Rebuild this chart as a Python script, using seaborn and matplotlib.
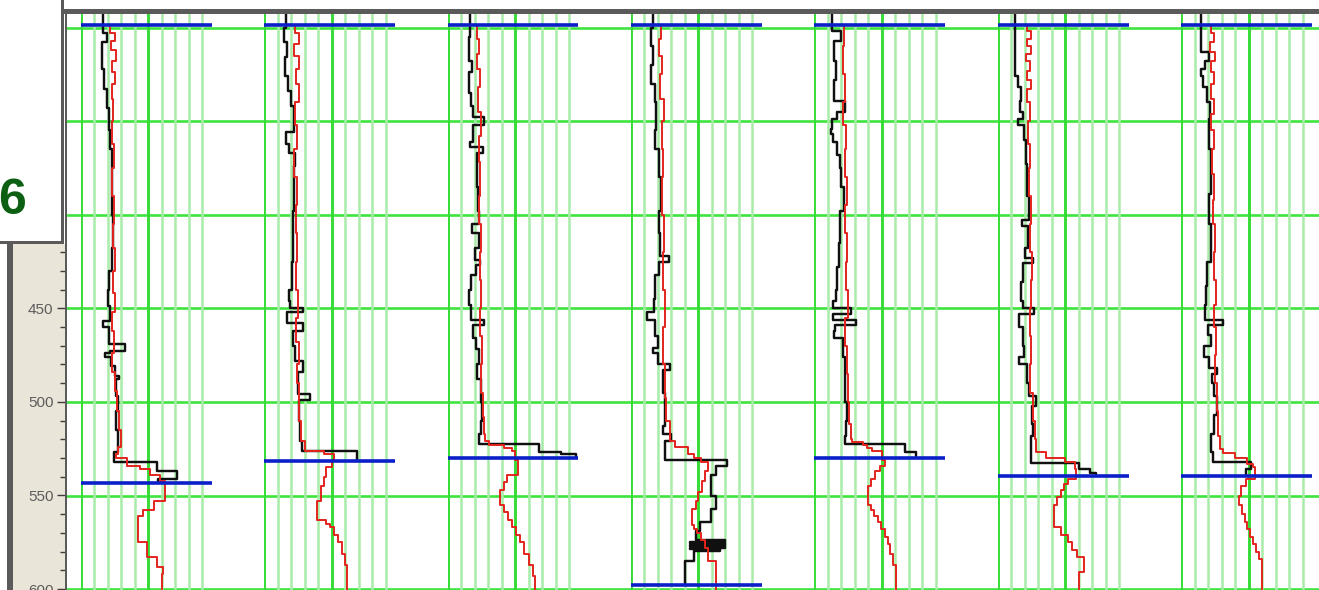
import matplotlib
matplotlib.use("Agg")
import matplotlib.pyplot as plt
from matplotlib.patches import Rectangle
from matplotlib import font_manager
import pandas as pd
import seaborn as sns

# ---------------------------------------------------------------------------
# Log readings per well: (depth, reading) break points of the stepped curves.
# Readings are in chart divisions (0-9 grid lines of each track).
# ---------------------------------------------------------------------------
w1_black = [(292.3, 1.65), (303, 1.95), (308, 1.6), (322, 1.75), (333, 1.95), (343, 2.1), (355, 2.2),
            (365, 2.35), (385, 2.3), (400, 2.4), (418, 2.3), (430, 2.1), (440, 2.0), (449, 2.15),
            (457, 1.65), (460, 2.1), (469, 3.3), (473, 2.2), (474, 1.8), (476, 2.25), (481, 2.55),
            (486, 2.8), (488, 2.6), (497, 2.75), (505, 2.65), (515, 2.75), (527, 2.5), (532, 5.65),
            (537, 7.1), (541, 5.7), (543.5, 5.7)]
w1_red = [(298.5, 2.2), (303, 2.55), (307, 2.25), (312, 2.6), (318, 2.3), (324, 2.55), (330, 2.3),
          (338, 2.4), (350, 2.3), (362, 2.45), (375, 2.35), (390, 2.45), (405, 2.4), (418, 2.55),
          (430, 2.4), (442, 2.55), (452, 2.35), (462, 2.5), (474, 2.3), (484, 2.55), (494, 2.7),
          (505, 2.8), (515, 2.95), (524, 2.75), (528, 2.6), (530, 3.4), (534, 4.4), (536, 5.1),
          (539, 5.9), (542, 6.25), (553, 5.4), (558, 4.6), (561, 4.25), (575, 4.9), (583, 5.65),
          (588, 6.1), (592, 6.0), (600.5, 6.0)]

w2_black = [(292.3, 1.6), (300, 1.5), (308, 1.7), (316, 1.55), (326, 1.8), (334, 2.0), (342, 2.25),
            (352, 2.2), (356, 1.65), (362, 1.85), (367, 2.3), (374, 2.2), (398, 2.15), (425, 2.1),
            (440, 1.85), (446, 1.95), (450, 2.9), (452, 1.7), (458, 2.9), (462, 2.15), (470, 2.3),
            (478, 2.9), (484, 2.5), (496, 3.4), (499, 2.55), (510, 2.65), (521, 2.8), (526, 6.9),
            (531.7, 6.9)]
w2_red = [(298.5, 2.3), (303, 2.55), (309, 2.25), (315, 2.6), (322, 2.35), (330, 2.55), (340, 2.3),
          (352, 2.4), (365, 2.25), (380, 2.4), (395, 2.35), (410, 2.45), (425, 2.35), (440, 2.5),
          (455, 2.35), (468, 2.55), (480, 2.45), (490, 2.6), (500, 2.55), (510, 2.7), (521, 3.0),
          (526, 4.4), (528, 5.2), (531, 5.0), (535, 4.6), (540, 4.4), (545, 4.2), (553, 3.9),
          (563, 4.6), (565, 4.9), (567, 5.2), (571, 5.5), (575, 5.8), (581, 6.0), (587, 6.15),
          (600.5, 6.15)]

w3_black = [(292.3, 1.7), (305, 1.6), (318, 1.8), (324, 1.6), (335, 1.75), (342, 1.9), (348, 2.7),
            (352, 1.9), (361, 1.7), (364, 2.6), (367, 2.2), (385, 2.25), (398, 2.3), (405, 1.85),
            (410, 2.3), (418, 2.0), (424, 2.4), (427, 2.1), (432, 1.75), (440, 1.6), (448, 1.75),
            (456, 2.7), (459, 1.9), (466, 2.1), (472, 2.3), (480, 2.2), (488, 2.45), (500, 2.55),
            (510, 2.5), (517, 2.3), (522.5, 6.8), (526.5, 8.4), (528, 9.5), (529.5, 9.5)]
w3_red = [(298.5, 2.2), (306, 2.35), (314, 2.2), (322, 2.4), (332, 2.25), (345, 2.45), (358, 2.3),
          (372, 2.4), (390, 2.35), (405, 2.5), (420, 2.4), (435, 2.5), (450, 2.4), (465, 2.55),
          (480, 2.45), (495, 2.6), (508, 2.7), (517, 2.8), (521, 3.1), (523, 4.2), (524.5, 4.8),
          (526, 5.0), (531, 5.2), (539, 4.4), (543, 4.2), (547, 3.9), (555, 4.2), (559, 4.5),
          (563, 4.8), (567, 5.1), (571, 5.4), (575, 5.7), (581, 6.0), (587, 6.3), (593, 6.45),
          (600.5, 6.45)]

w4_black = [(292.3, 1.6), (300, 1.5), (310, 1.65), (320, 1.5), (330, 1.75), (340, 1.85), (355, 1.75),
            (365, 2.1), (380, 2.25), (398, 2.05), (410, 2.15), (422, 2.8), (425, 2.1), (432, 1.8),
            (445, 1.7), (452, 1.2), (456, 1.8), (465, 2.0), (471, 1.6), (474, 2.0), (480, 2.9),
            (483, 2.4), (495, 2.55), (505, 2.5), (513, 2.35), (517, 3.0), (521, 2.5), (531, 7.1),
            (534, 6.3), (539, 5.9), (550, 6.3), (557, 5.95), (564, 5.1), (569, 4.8), (574, 7.0),
            (574.8, 4.4), (575.6, 7.0), (576.4, 4.4), (577.2, 7.0), (578, 4.4), (578.8, 6.6),
            (579.6, 4.7), (585, 4.0), (597.9, 4.0)]
w4_red = [(298.5, 2.2), (306, 2.1), (315, 2.3), (325, 2.15), (338, 2.45), (350, 2.3), (365, 2.4),
          (380, 2.3), (400, 2.45), (420, 2.35), (440, 2.5), (460, 2.4), (480, 2.55), (498, 2.6),
          (510, 2.9), (521, 3.3), (524, 4.2), (528, 4.7), (530, 5.2), (532, 5.7), (537, 5.5),
          (542, 5.3), (548, 5.0), (553, 4.8), (557, 4.5), (566, 4.7), (568, 4.9), (570, 5.2),
          (574, 5.5), (578, 5.7), (585, 6.3), (600.5, 6.3)]

w5_black = [(292.3, 1.3), (302, 1.95), (307, 1.45), (318, 1.6), (328, 1.45), (339, 2.3), (345, 1.7),
            (349, 1.3), (354, 1.2), (357, 1.4), (361, 1.65), (368, 1.9), (375, 2.0), (385, 2.2),
            (398, 1.9), (415, 1.8), (428, 1.7), (440, 1.6), (446, 1.35), (450, 2.7), (453, 1.4),
            (456, 3.1), (459, 1.5), (462, 1.45), (466, 2.1), (476, 2.25), (488, 2.3), (500, 2.45),
            (510, 2.35), (518, 2.25), (522.5, 6.7), (526.5, 7.5), (529, 7.5)]
w5_red = [(298.5, 2.2), (310, 2.1), (325, 2.25), (340, 2.15), (352, 2.35), (365, 2.25), (380, 2.4),
          (395, 2.3), (410, 2.45), (425, 2.35), (440, 2.5), (455, 2.3), (470, 2.45), (485, 2.5),
          (500, 2.6), (512, 2.7), (520, 2.8), (521.5, 3.6), (523, 3.9), (524.5, 4.3), (526, 5.0),
          (531, 5.2), (534, 4.9), (537, 4.5), (541, 4.2), (545, 3.95), (555, 4.2), (558, 4.45),
          (561, 4.7), (564, 4.95), (568, 5.2), (572, 5.45), (576, 5.6), (581, 5.85), (587, 6.05),
          (600.5, 6.05)]

w6_black = [(292.3, 1.3), (326, 1.5), (332, 1.75), (339, 1.65), (345, 1.9), (349, 1.5), (352, 1.95),
            (360, 2.1), (373, 2.2), (390, 2.3), (403, 1.8), (406, 2.25), (418, 2.0), (423, 2.6),
            (426, 1.9), (436, 1.75), (446, 1.9), (450, 2.7), (453, 1.55), (460, 1.85), (470, 1.95),
            (476, 1.55), (480, 2.15), (490, 2.3), (497, 2.8), (502, 2.55), (512, 2.65), (518, 2.45),
            (532.5, 6.0), (536, 6.8), (538, 7.3), (539.4, 7.3)]
w6_red = [(298.5, 2.2), (302, 2.45), (306, 2.15), (310, 2.45), (314, 2.1), (318, 2.4), (323, 2.15),
          (328, 2.45), (333, 2.2), (340, 2.4), (350, 2.25), (362, 2.4), (375, 2.3), (390, 2.45),
          (405, 2.4), (420, 2.55), (435, 2.45), (450, 2.4), (465, 2.5), (480, 2.4), (495, 2.6),
          (510, 2.75), (520, 2.85), (527, 3.6), (530, 5.0), (532, 5.7), (536, 5.8), (541, 5.2),
          (544, 4.9), (547, 4.7), (551, 4.4), (555, 4.2), (567, 4.7), (571, 5.2), (575, 5.5),
          (579, 5.9), (583, 6.4), (591, 6.0), (600.5, 6.0)]

w7_black = [(292.3, 1.5), (306, 1.45), (313, 2.05), (318, 1.8), (322, 1.45), (326, 1.6), (332, 1.95),
            (340, 2.15), (349, 2.1), (365, 2.25), (389, 2.1), (405, 2.2), (425, 1.9), (438, 1.85),
            (448, 1.8), (456, 3.1), (459, 2.0), (464, 2.2), (470, 1.7), (476, 2.1), (482, 2.65),
            (485, 2.3), (490, 2.45), (497, 2.65), (507, 2.4), (517, 2.25), (527, 2.35), (532, 5.2),
            (536, 4.8), (539, 4.8)]
w7_red = [(298.5, 2.2), (303, 2.45), (308, 2.15), (313, 2.5), (318, 2.2), (324, 2.45), (330, 2.2),
          (338, 2.4), (346, 2.25), (355, 2.45), (365, 2.3), (378, 2.45), (392, 2.35), (405, 2.5),
          (420, 2.4), (435, 2.55), (448, 2.45), (460, 2.6), (475, 2.5), (490, 2.65), (505, 2.75),
          (518, 2.85), (525, 3.1), (527.5, 4.0), (530, 4.9), (533, 5.3), (535, 5.45), (541, 4.8),
          (545, 4.4), (550, 4.3), (555, 4.5), (560, 4.7), (564, 4.9), (568, 5.1), (572, 5.3),
          (576, 5.55), (580, 5.8), (584, 6.0), (600.5, 6.0)]

# Formation tops: common upper marker and per-well base marker (depth)
TOP_MARKER = 298.5
BASE_MARKERS = [543.5, 531.8, 529.8, 597.9, 529.8, 539.4, 539.4]

GRID_DEPTHS = [300, 350, 400, 450, 500, 550, 600]
DEPTH_LABELS = [450, 500, 550, 600]
DEPTH_MINOR = list(range(420, 601, 10))
WELL_NUMBER = "6"

BLACK_LOGS = [w1_black, w2_black, w3_black, w4_black, w5_black, w6_black, w7_black]
RED_LOGS = [w1_red, w2_red, w3_red, w4_red, w5_red, w6_red, w7_red]

# ---------------------------------------------------------------------------
# Styling / layout (pixel geometry of the 1319 x 590 canvas)
# ---------------------------------------------------------------------------
W, H = 1319, 590
GREEN_H = "#3fe43f"
GREEN_MAJ = "#35dc35"
GREEN_MIN = "#a9eca9"
BLUE = "#0b1fc9"
RED = "#e3241d"
BLACK = "#101010"
FRAME = "#5a5a5a"
PANEL = "#e9e5d8"

PX_TOP, PX_BOTTOM = 13.0, 590.0
PX_PER_UNIT = 1.872          # vertical pixels per depth unit
PX_DEPTH300 = 27.5
TRACK0, TRACK_STEP, DIV_PX = 80.7, 183.4, 13.5


def depth_at(py):
    return 300 + (py - PX_DEPTH300) / PX_PER_UNIT


YLIM = (depth_at(PX_BOTTOM), depth_at(PX_TOP))

sns.set_theme(style="white")
names = {f.name for f in font_manager.fontManager.ttflist}
LABEL_FAMILY = "Liberation Sans Narrow" if "Liberation Sans Narrow" in names else (
    "Liberation Sans" if "Liberation Sans" in names else "DejaVu Sans")
BOLD_FAMILY = "Liberation Sans" if "Liberation Sans" in names else "DejaVu Sans"

fig = plt.figure(figsize=(W / 100, H / 100), dpi=100)
fig.patch.set_facecolor("white")


def add_axes_px(x0, y0, x1, y1, **kw):
    return fig.add_axes([x0 / W, 1 - y1 / H, (x1 - x0) / W, (y1 - y0) / H], **kw)


def add_rect_px(x0, y0, x1, y1, color, z):
    fig.add_artist(Rectangle((x0 / W, 1 - y1 / H), (x1 - x0) / W, (y1 - y0) / H,
                             transform=fig.transFigure, facecolor=color,
                             edgecolor="none", zorder=z))


# Background panel carrying the horizontal depth grid
bg = add_axes_px(65, PX_TOP, W, PX_BOTTOM)
bg.set_ylim(*YLIM)
bg.set_xlim(0, 1)
bg.set_yticks(GRID_DEPTHS)
bg.set_xticks([])
bg.yaxis.grid(True, color=GREEN_H, lw=1.9)
bg.tick_params(length=0, labelleft=False)
for s in bg.spines.values():
    s.set_visible(False)

# One transparent axes per well track
records = []
for i, (blk, red) in enumerate(zip(BLACK_LOGS, RED_LOGS)):
    for name, pts in (("black", blk), ("red", red)):
        for d, v in pts:
            records.append({"well": i, "curve": name, "depth": d, "value": v})
logs = pd.DataFrame(records)

span = TRACK_STEP / DIV_PX
for i in range(7):
    x0 = TRACK0 + i * TRACK_STEP
    ax = add_axes_px(x0, PX_TOP, x0 + TRACK_STEP, PX_BOTTOM)
    ax.patch.set_visible(False)
    ax.set_xticks([0, 5])
    ax.set_xticks([1, 2, 3, 4, 6, 7, 8, 9], minor=True)
    ax.set_yticks([])
    ax.grid(True, axis="x", which="minor", color=GREEN_MIN, lw=1.8)
    ax.grid(True, axis="x", which="major", color=GREEN_MAJ, lw=2.1)
    ax.tick_params(which="both", length=0, labelbottom=False, labelleft=False)
    for s in ax.spines.values():
        s.set_visible(False)

    well = logs[logs["well"] == i]
    sns.lineplot(data=well[well["curve"] == "black"], x="value", y="depth", orient="y",
                 estimator=None, sort=True, drawstyle="steps-pre", color=BLACK, lw=1.75, ax=ax)
    sns.lineplot(data=well[well["curve"] == "red"], x="value", y="depth", orient="y",
                 estimator=None, sort=True, drawstyle="steps-pre", color=RED, lw=1.4, ax=ax)
    ax.hlines([TOP_MARKER, BASE_MARKERS[i]], 0, 9.7, color=BLUE, lw=2.6, zorder=5)
    ax.set_xlim(0, span)
    ax.set_ylim(*YLIM)
    ax.set_xlabel("")
    ax.set_ylabel("")

# Depth scale panel
dp = add_axes_px(13, 244, 64.5, PX_BOTTOM)
dp.set_facecolor(PANEL)
dp.set_xlim(0, 1)
dp.set_xticks([])
dp.set_ylim(depth_at(PX_BOTTOM), depth_at(244))
dp.yaxis.set_ticks_position("right")
dp.set_yticks(DEPTH_LABELS)
dp.set_yticks(DEPTH_MINOR, minor=True)
dp.set_yticklabels([str(v) for v in DEPTH_LABELS])
dp.tick_params(axis="y", which="major", direction="in", length=6, width=1.0, color="#3c3c3c",
               right=True, left=False, labelright=True, labelleft=False, pad=-8,
               labelsize=11, labelcolor="#5c5c5c")
dp.tick_params(axis="y", which="minor", direction="in", length=3.6, width=1.0, color="#3c3c3c",
               right=True, left=False)
for lab in dp.get_yticklabels():
    lab.set_horizontalalignment("right")
    lab.set_fontfamily(LABEL_FAMILY)
for s in dp.spines.values():
    s.set_visible(False)

# Frame lines
add_rect_px(62, 9, W, 14, FRAME, 6)          # top border
add_rect_px(64.5, 9, 66.5, H, FRAME, 6)      # left border of the log area
add_rect_px(7, 244, 13, H, FRAME, 6)         # left border of the depth panel

# Well number box
add_rect_px(0, 0, 62, 242, "white", 7)
add_rect_px(61, 0, 64, 244, FRAME, 8)
add_rect_px(0, 241, 64, 244, FRAME, 8)
fig.text(26 / W, 1 - 201 / H, WELL_NUMBER, ha="right", va="center", fontsize=36,
         fontweight="bold", color="#0d5f14", family=BOLD_FAMILY, zorder=9)

fig.savefig("out.png", dpi=100, facecolor="white")
